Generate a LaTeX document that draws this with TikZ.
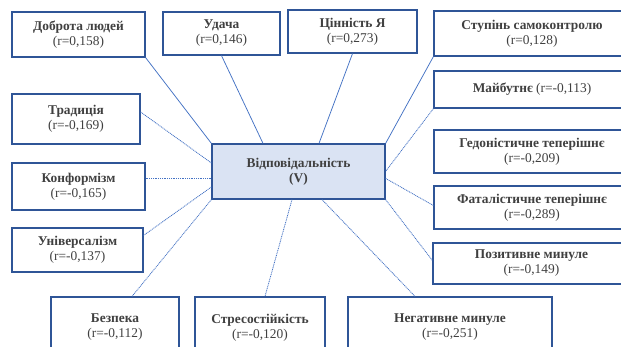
\documentclass[tikz,border=0pt]{standalone}
\usepackage{fontspec}
\setmainfont{Liberation Serif}
\definecolor{boxc}{HTML}{2F5597}
\definecolor{linec}{HTML}{4472C4}
\definecolor{fillc}{HTML}{DAE3F3}
\definecolor{txtc}{HTML}{404040}
\tikzset{
  box/.style={draw=boxc, line width=1.2pt, rectangle, inner sep=0pt, align=center,
    text=txtc, font=\fontsize{13.4}{15}\selectfont},
  cbox/.style={box, fill=fillc},
  posl/.style={draw=linec, line width=0.75pt},
  negl/.style={draw=linec, line width=0.8pt, dash pattern=on 1pt off 0.8pt},
}
\begin{document}
\begin{tikzpicture}[x=1pt,y=-1pt]
\useasboundingbox (0,0) rectangle (621,347);
\clip (0,0) rectangle (621,347);
\fill[white] (0,0) rectangle (621,347);
% boxes
\node[box, minimum width=133pt, minimum height=45pt] (dobrota) at (78.5,34.5) {\textbf{Доброта людей}\\(r=0,158)};
\node[box, minimum width=117pt, minimum height=43pt] (udacha) at (221.5,33.5) {\textbf{Удача}\\(r=0,146)};
\node[box, minimum width=129pt, minimum height=43pt] (cinnist) at (352.5,31.5) {\textbf{Цінність Я}\\(r=0,273)};
\node[box, minimum width=196pt, minimum height=45pt] (stupin) at (532,33.5) {\textbf{Ступінь самоконтролю}\\(r=0,128)};
\node[box, minimum width=196pt, minimum height=37pt] (maibutnie) at (532,89.5) {\textbf{Майбутнє} (r=-0,113)};
\node[box, minimum width=128pt, minimum height=50pt] (tradytsia) at (76,119) {\textbf{Традиція}\\(r=-0,169)};
\node[box, minimum width=133pt, minimum height=47pt] (konformizm) at (78.5,186.5) {\textbf{Конформізм}\\(r=-0,165)};
\node[box, minimum width=131pt, minimum height=44pt] (universalizm) at (77.5,250) {\textbf{Універсалізм}\\(r=-0,137)};
\node[box, minimum width=196pt, minimum height=43pt] (gedon) at (532,151.5) {\textbf{Гедоністичне теперішнє}\\(r=-0,209)};
\node[box, minimum width=196pt, minimum height=43pt] (fatal) at (532,207.5) {\textbf{Фаталістичне теперішнє}\\(r=-0,289)};
\node[box, minimum width=197pt, minimum height=41pt] (pozytyvne) at (531.5,263.5) {\textbf{Позитивне минуле}\\(r=-0,149)};
\node[box, minimum width=128pt, minimum height=61pt] (bezpeka) at (115,327.5) {\textbf{Безпека}\\(r=-0,112)};
\node[box, minimum width=130pt, minimum height=61pt] (stres) at (260,327.5) {\textbf{Стресостійкість}\\(r=-0,120)};
\node[box, minimum width=204pt, minimum height=61pt] (negat) at (450,327.5) {\textbf{Негативне минуле}\\(r=-0,251)};
\node[cbox, minimum width=173pt, minimum height=55pt] (c) at (298.5,171.5) {\textbf{Відповідальність}\\\textbf{(V)}};
% connectors
\draw[posl] (dobrota.south east) -- (c.north west);
\draw[posl] (udacha.south) -- ([xshift=-35.5pt]c.north);
\draw[posl] (cinnist.south) -- ([xshift=20.5pt]c.north);
\draw[posl] (stupin.south west) -- (c.north east);
\draw[negl] (maibutnie.south west) -- ([yshift=-28pt]c.north east);
\draw[negl] ([yshift=-35pt]c.north east) -- ([yshift=2pt]fatal.west);
\draw[negl] (c.south east) -- ([yshift=3pt]pozytyvne.west);
\draw[negl] ([xshift=23.5pt]c.south) -- ([xshift=-35pt]negat.north);
\draw[negl] ([xshift=-6.5pt]c.south) -- ([xshift=5pt]stres.north);
\draw[negl] (c.south west) -- ([xshift=17pt]bezpeka.north);
\draw[negl] ([yshift=-15.5pt]c.west) -- ([yshift=-8pt]universalizm.north east);
\draw[negl] ([yshift=8.5pt]konformizm.east) -- ([yshift=-6.5pt]c.west);
\draw[negl] ([yshift=7pt]tradytsia.east) -- ([yshift=8.5pt]c.west);
\end{tikzpicture}
\end{document}
